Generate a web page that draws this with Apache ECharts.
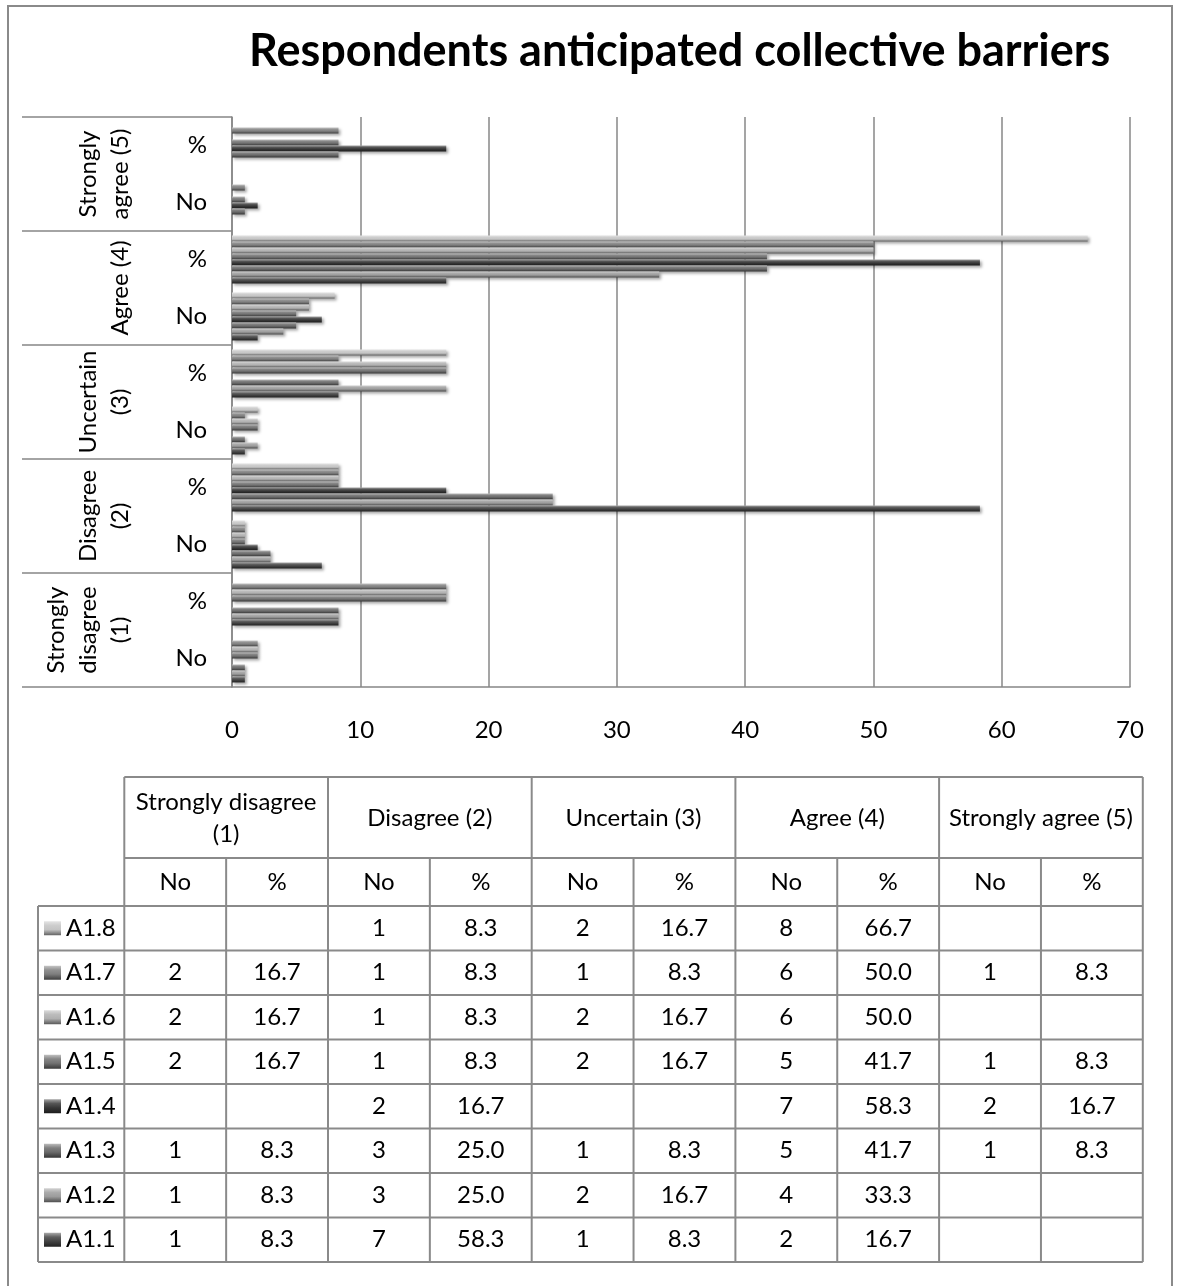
<!DOCTYPE html>
<html><head><meta charset="utf-8">
<script src="https://cdn.jsdelivr.net/npm/echarts@6/dist/echarts.min.js"></script>
<style>html,body{margin:0;padding:0;background:#fff}#c{width:1177px;height:1286px}</style>
</head><body><div id="c"></div>
<script>
// ---------------- data ----------------
const chartTitle = 'Respondents anticipated collective barriers';
const levelAxisLabels = ['Strongly\ndisagree\n(1)', 'Disagree\n(2)', 'Uncertain\n(3)', 'Agree (4)', 'Strongly\nagree (5)'];
const levelTableLabels = ['Strongly disagree\n(1)', 'Disagree (2)', 'Uncertain (3)', 'Agree (4)', 'Strongly agree (5)'];
const measures = ['No', '%'];
const categories = ['No', '%', 'No', '%', 'No', '%', 'No', '%', 'No', '%'];
const xMin = 0, xMax = 70, xStep = 10;
// top-to-bottom order (as in the table)
const seriesNames = ['A1.8', 'A1.7', 'A1.6', 'A1.5', 'A1.4', 'A1.3', 'A1.2', 'A1.1'];
// values per category: SD No, SD %, D No, D %, U No, U %, A No, A %, SA No, SA %
const A1_8 = [null, null, 1, 8.3, 2, 16.7, 8, 66.7, null, null];
const A1_7 = [2, 16.7, 1, 8.3, 1, 8.3, 6, 50.0, 1, 8.3];
const A1_6 = [2, 16.7, 1, 8.3, 2, 16.7, 6, 50.0, null, null];
const A1_5 = [2, 16.7, 1, 8.3, 2, 16.7, 5, 41.7, 1, 8.3];
const A1_4 = [null, null, 2, 16.7, null, null, 7, 58.3, 2, 16.7];
const A1_3 = [1, 8.3, 3, 25.0, 1, 8.3, 5, 41.7, 1, 8.3];
const A1_2 = [1, 8.3, 3, 25.0, 2, 16.7, 4, 33.3, null, null];
const A1_1 = [1, 8.3, 7, 58.3, 1, 8.3, 2, 16.7, null, null];
const seriesValues = [A1_8, A1_7, A1_6, A1_5, A1_4, A1_3, A1_2, A1_1];
const seriesColors = ['#c4c4c4', '#7e7e7e', '#b0b0b0', '#727272', '#383838', '#6a6a6a', '#9c9c9c', '#444444'];

// ---------------- styling helpers ----------------
function mix(hex, target, t) {
  const a = parseInt(hex.slice(1), 16), b = parseInt(target.slice(1), 16);
  const ch = (v, s) => (v >> s) & 255;
  const m = s => Math.round(ch(a, s) + (ch(b, s) - ch(a, s)) * t);
  return 'rgb(' + m(16) + ',' + m(8) + ',' + m(0) + ')';
}
function bevel(c) {
  return new echarts.graphic.LinearGradient(0, 0, 0, 1, [
    { offset: 0, color: mix(c, '#ffffff', 0.55) },
    { offset: 0.3, color: mix(c, '#ffffff', 0.15) },
    { offset: 0.6, color: c },
    { offset: 1, color: mix(c, '#000000', 0.5) }
  ]);
}
const FONT = 'Lato, "Open Sans", sans-serif';
const GRID_C = '#878787';

// ---------------- table layout ----------------
const tblX0 = 124.3, colW = 101.85, rowHdrX = 38;
const hdr1Top = 777, hdr2Top = 858, dataTop = 906, rowH = 44.5;
const tblRight = tblX0 + colW * 10, tblBottom = dataTop + rowH * seriesNames.length;
const els = [];
const L = (x1, y1, x2, y2) => els.push({ type: 'line', shape: { x1, y1, x2, y2 }, style: { stroke: '#8a8a8a', lineWidth: 2 }, z: 10 });
const T = (text, x, y, size, lh) => els.push({ type: 'text', style: { text, x, y, fill: '#000', font: size + 'px ' + FONT, textAlign: 'center', textVerticalAlign: 'middle', lineHeight: lh || size * 1.2 }, z: 11 });
// outer frame
els.push({ type: 'rect', shape: { x: 8, y: 6, width: 1164, height: 1320 }, style: { fill: 'none', stroke: '#8a8a8a', lineWidth: 2 }, z: 0 });
L(tblX0, hdr1Top, tblRight, hdr1Top);
L(tblX0, hdr2Top, tblRight, hdr2Top);
for (let r = 0; r <= seriesNames.length; r++) L(rowHdrX, dataTop + r * rowH, tblRight, dataTop + r * rowH);
L(rowHdrX, dataTop, rowHdrX, tblBottom);
for (let c = 0; c <= 10; c++) L(tblX0 + c * colW, c % 2 === 0 ? hdr1Top : hdr2Top, tblX0 + c * colW, tblBottom);
levelTableLabels.forEach((t, i) => T(t, tblX0 + (2 * i + 1) * colW, (hdr1Top + hdr2Top) / 2 + 1, 24, 32));
for (let c = 0; c < 10; c++) T(measures[c % 2], tblX0 + (c + 0.5) * colW, (hdr2Top + dataTop) / 2, 24);
seriesValues.forEach((vals, r) => {
  vals.forEach((v, c) => {
    if (v === null) return;
    T(c % 2 === 0 ? String(v) : v.toFixed(1), tblX0 + (c + 0.5) * colW, dataTop + (r + 0.5) * rowH, 24);
  });
});

// ---------------- chart ----------------
const chart = echarts.init(document.getElementById('c'), null, { renderer: 'canvas' });
chart.setOption({
  animation: false,
  backgroundColor: '#fff',
  title: { text: chartTitle, left: 244, top: 24, textStyle: { fontFamily: FONT, fontWeight: 'bold', fontSize: 45, color: '#000' } },
  legend: {
    orient: 'vertical', left: 44, top: dataTop + (rowH - 30) / 2, padding: 0,
    itemGap: rowH - 30, itemWidth: 17, itemHeight: 14, icon: 'rect', selectedMode: false,
    data: seriesNames,
    textStyle: { fontFamily: FONT, fontSize: 24, lineHeight: 30, color: '#000' }
  },
  grid: { left: 232, right: 47, top: 117, bottom: 599, containLabel: false },
  xAxis: {
    type: 'value', min: xMin, max: xMax, interval: xStep,
    axisLine: { show: true, lineStyle: { color: GRID_C, width: 1.5 } },
    axisTick: { show: false },
    axisLabel: { margin: 31, fontFamily: FONT, fontSize: 24, color: '#000' },
    splitLine: { show: true, lineStyle: { color: GRID_C, width: 1.5 } }
  },
  yAxis: [
    {
      type: 'category', data: categories, position: 'left',
      axisLine: { show: true, lineStyle: { color: GRID_C, width: 1.5 } },
      axisTick: { show: false },
      axisLabel: { interval: 0, margin: 25, fontFamily: FONT, fontSize: 24, color: '#000' }
    },
    {
      type: 'category', data: levelAxisLabels, position: 'left', offset: 0,
      axisLine: { show: false },
      axisTick: { show: true, interval: 0, length: 210, lineStyle: { color: GRID_C, width: 1.5 } },
      axisLabel: { interval: 0, rotate: 90, margin: 96, fontFamily: FONT, fontSize: 24, lineHeight: 32, color: '#000' }
    }
  ],
  series: seriesNames.map((n, i) => ({
    name: n, type: 'bar', yAxisIndex: 0, data: seriesValues[i],
    barGap: '0%', barCategoryGap: '16%',
    itemStyle: { color: bevel(seriesColors[i]), shadowColor: 'rgba(0,0,0,0.35)', shadowBlur: 3, shadowOffsetX: 2, shadowOffsetY: 2 }
  })),
  graphic: { elements: els }
});
</script></body></html>
